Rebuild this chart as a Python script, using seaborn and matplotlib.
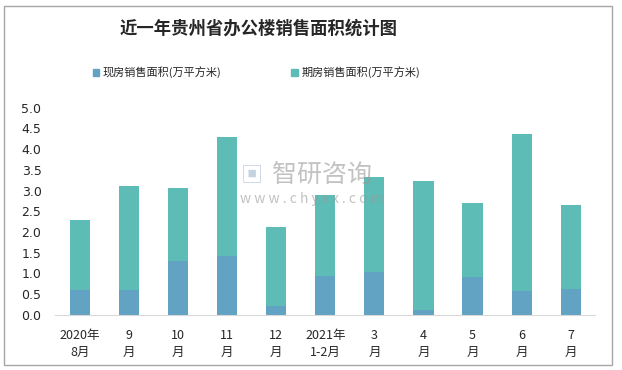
import pandas as pd
import matplotlib.pyplot as plt
import seaborn as sns
from matplotlib.patches import Patch, Rectangle

# 数据
months = ["2020年\n8月", "9\n月", "10\n月", "11\n月", "12\n月", "2021年\n1-2月",
          "3\n月", "4\n月", "5\n月", "6\n月", "7\n月"]
xianfang = [0.60, 0.60, 1.31, 1.42, 0.22, 0.94, 1.04, 0.12, 0.92, 0.58, 0.63]
qifang = [1.69, 2.52, 1.76, 2.88, 1.91, 1.96, 2.29, 3.12, 1.79, 3.79, 2.03]

c_xian = "#62A3C3"
c_qi = "#5DBCB5"

sns.set_style("white")
plt.rcParams["font.family"] = ["Noto Sans CJK SC", "DejaVu Sans"]

df = pd.DataFrame({"月份": months, "现房": xianfang, "期房": qifang})
df["合计"] = df["现房"] + df["期房"]

fig = plt.figure(figsize=(6.22, 3.70), dpi=100)
ax = fig.add_axes([0.089, 0.149, 0.868, 0.56])

sns.barplot(data=df, x="月份", y="合计", color=c_qi, width=0.41, saturation=1,
            linewidth=0, ax=ax)
sns.barplot(data=df, x="月份", y="现房", color=c_xian, width=0.41, saturation=1,
            linewidth=0, ax=ax)

ax.set_ylim(0, 5)
ax.set_yticks([i * 0.5 for i in range(11)])
ax.set_yticklabels([f"{i * 0.5:.1f}" for i in range(11)], fontsize=9, family="DejaVu Sans")
ax.set_xlabel("")
ax.set_ylabel("")
ax.tick_params(axis="x", length=0, labelsize=9, pad=10)
ax.tick_params(axis="y", length=0, pad=10)
for lab in ax.get_xticklabels():
    lab.set_linespacing(1.45)
for s in ["top", "right", "left"]:
    ax.spines[s].set_visible(False)
ax.spines["bottom"].set_color("#D9D9D9")

# 标题与图例
fig.text(0.415, 0.924, "近一年贵州省办公楼销售面积统计图", ha="center", va="center",
         fontsize=12.5, fontweight="bold")
handles = [Patch(color=c_xian, label="现房销售面积(万平方米)"),
           Patch(color=c_qi, label="期房销售面积(万平方米)")]
fig.legend(handles=handles, loc="center", bbox_to_anchor=(0.412, 0.805), ncol=2,
           frameon=False, fontsize=8, handlelength=0.6, handleheight=0.6,
           handletextpad=0.3, columnspacing=6.3)

# 水印
fig.text(0.437, 0.527, "智研咨询", fontsize=18, color="#9A9A9A", alpha=0.6,
         ha="left", va="center")
fig.text(0.387, 0.527, "▣", fontsize=16, color="#9FB4D0", alpha=0.6, ha="left", va="center")
fig.text(0.386, 0.462, "w w w . c h y x x . c o m", fontsize=10, color="#9A9A9A",
         alpha=0.6, ha="left", va="center")

# 外框
fig.patches.append(Rectangle((0.006, 0.014), 0.978, 0.97, transform=fig.transFigure,
                             fill=False, edgecolor="#A6A6A6", linewidth=1))

fig.savefig("out.png", dpi=100)
plt.close()
